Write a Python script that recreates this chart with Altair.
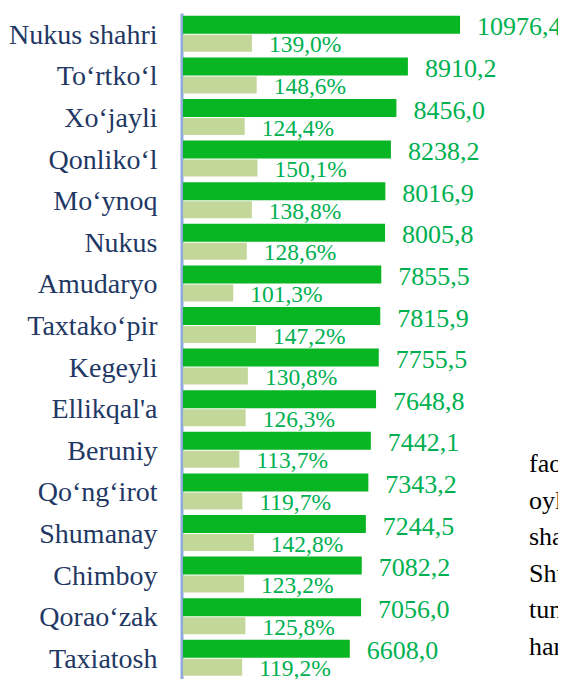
import altair as alt
import pandas as pd

regions = ["Nukus shahri", "To‘rtko‘l", "Xo‘jayli", "Qonliko‘l", "Mo‘ynoq", "Nukus",
           "Amudaryo", "Taxtako‘pir", "Kegeyli", "Ellikqal'a", "Beruniy", "Qo‘ng‘irot",
           "Shumanay", "Chimboy", "Qorao‘zak", "Taxiatosh"]
values = [10976.4, 8910.2, 8456.0, 8238.2, 8016.9, 8005.8, 7855.5, 7815.9,
          7755.5, 7648.8, 7442.1, 7343.2, 7244.5, 7082.2, 7056.0, 6608.0]
percents = [139.0, 148.6, 124.4, 150.1, 138.8, 128.6, 101.3, 147.2,
            130.8, 126.3, 113.7, 119.7, 142.8, 123.2, 125.8, 119.2]

# fragment of surrounding document text visible at right edge (cut off in the source)
side_words = ["fao", "oyl", "sha", "Shu", "tun", "har"]

df = pd.DataFrame({
    "region": regions,
    "value": values,
    "pct": percents,
})
df["value_label"] = [f"{v:.1f}".replace(".", ",") for v in values]
df["pct_label"] = [f"{p:.1f}".replace(".", ",") + "%" for p in percents]

FONT = "Liberation Serif"
GREEN = "#08b523"
LIGHT = "#c4d79b"
LABEL_GREEN = "#00b050"

PLOT_W = 375
PLOT_H = 666

y_enc = alt.Y(
    "region:N", sort=regions,
    scale=alt.Scale(paddingInner=0, paddingOuter=0, range=[0, 665.6]),
    axis=alt.Axis(title=None, ticks=False, tickSize=0, grid=False,
                  domain=True, domainColor="#8eaadb", domainWidth=3, offset=1.5,
                  labelFont=FONT, labelFontSize=28, labelColor="#1f3864",
                  labelPadding=24.5, labelOffset=2, labelLimit=300),
)

sv = alt.Scale(domain=[0, 14857], nice=False, zero=True)
sp = alt.Scale(domain=[0, 756], nice=False, zero=True)

base = alt.Chart(df)

green_bars = base.mark_bar(color=GREEN, height=18, yOffset=-9).encode(
    x=alt.X("value:Q", scale=sv, axis=None), y=y_enc)
green_text = base.mark_text(align="left", baseline="alphabetic", dx=17, dy=1.5,
                            font=FONT, fontSize=26, color=LABEL_GREEN).encode(
    x=alt.X("value:Q", scale=sv, axis=None), y=y_enc, text="value_label:N")
green = alt.layer(green_bars, green_text)

light_bars = base.mark_bar(color=LIGHT, height=17, yOffset=9.5).encode(
    x=alt.X("pct:Q", scale=sp, axis=None), y=y_enc)
light_text = base.mark_text(align="left", baseline="alphabetic", dx=17, dy=18.5,
                            font=FONT, fontSize=23.5, color=LABEL_GREEN).encode(
    x=alt.X("pct:Q", scale=sp, axis=None), y=y_enc, text="pct_label:N")
light = alt.layer(light_bars, light_text)

side_layers = []
for i, w in enumerate(side_words):
    side_layers.append(
        alt.Chart(pd.DataFrame({"w": [w]})).mark_text(
            align="left", baseline="alphabetic", font=FONT, fontSize=26, color="#000000"
        ).encode(text="w:N", x=alt.value(346), y=alt.value(459 + 36.6 * i))
    )

chart = alt.layer(green, light, *side_layers).resolve_scale(x="independent").properties(
    width=PLOT_W, height=PLOT_H,
    padding={"left": 175, "top": 5, "right": 0, "bottom": 0},
    autosize=alt.AutoSizeParams(type="none"),
    background="white",
).configure_view(stroke=None)

chart.save("out.html", embed_options={"renderer": "svg", "actions": False})
